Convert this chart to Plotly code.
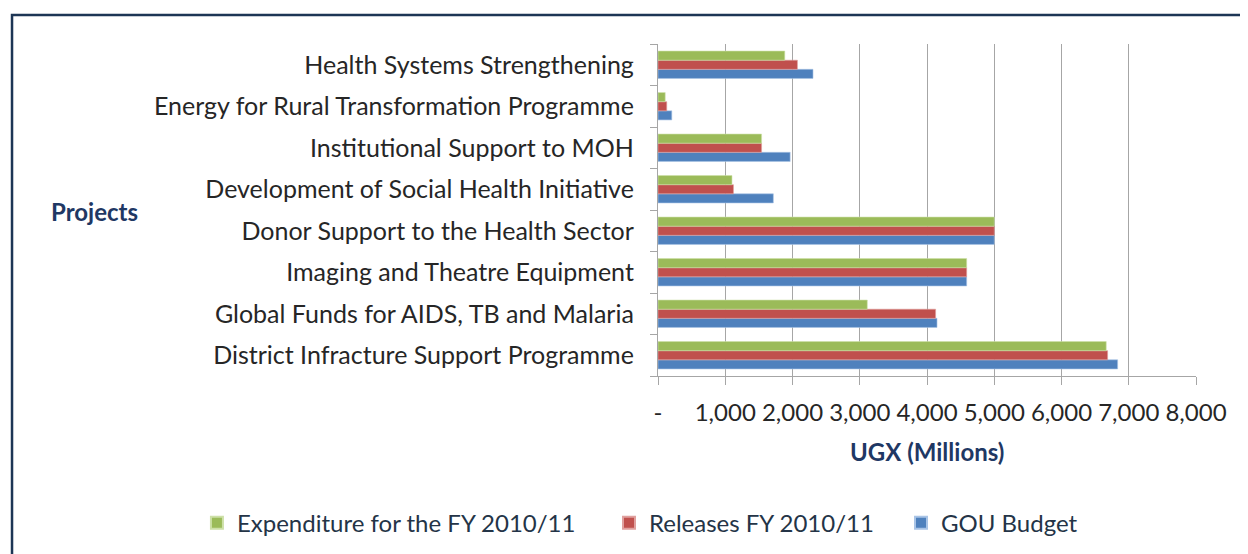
import plotly.graph_objects as go

categories = [
    "District Infracture Support Programme",
    "Global Funds for AIDS, TB and Malaria",
    "Imaging and Theatre Equipment",
    "Donor Support to the Health Sector",
    "Development of Social Health Initiative",
    "Institutional Support to MOH",
    "Energy for Rural Transformation Programme",
    "Health Systems Strengthening",
]
gou_budget = [6835, 4149, 4590, 5000, 1715, 1965, 205, 2305]
releases = [6686, 4128, 4590, 5000, 1122, 1540, 130, 2073]
expenditure = [6665, 3112, 4590, 5000, 1100, 1540, 107, 1885]

x_tickvals = [0, 1000, 2000, 3000, 4000, 5000, 6000, 7000, 8000]
x_ticktext = ["-", "1,000", "2,000", "3,000", "4,000", "5,000", "6,000", "7,000", "8,000"]

FONT = "Lato"
FS = 24
fig = go.Figure()
fig.add_trace(go.Bar(y=categories, x=gou_budget, name="GOU Budget", orientation="h",
                     legend="legend3",
                     marker=dict(color="#4F81BD", line=dict(color="#A9C4E6", width=0.6))))
fig.add_trace(go.Bar(y=categories, x=releases, name="Releases FY 2010/11", orientation="h",
                     legend="legend2",
                     marker=dict(color="#C0504D", line=dict(color="#E0A09E", width=0.6))))
fig.add_trace(go.Bar(y=categories, x=expenditure, name="Expenditure for the FY 2010/11", orientation="h",
                     legend="legend",
                     marker=dict(color="#9BBB59", line=dict(color="#CDE0A8", width=0.6))))

def leg(x):
    return dict(orientation="h", x=x, y=-0.443, xanchor="left", yanchor="middle",
                font=dict(size=FS, color="#243447"), itemwidth=30, itemsizing="constant",
                bgcolor="rgba(0,0,0,0)")

fig.update_layout(
    width=1240, height=546,
    margin=dict(l=650, r=52, t=36, b=178, autoexpand=False),
    paper_bgcolor="white", plot_bgcolor="white",
    barmode="group", bargap=0.34, bargroupgap=0,
    font=dict(family=FONT, size=FS, color="#262626"),
    showlegend=True,
    legend=leg(-0.857),
    legend2=leg(-0.0911),
    legend3=leg(0.4517),
    xaxis=dict(range=[0, 8000], tickvals=x_tickvals, ticktext=x_ticktext,
               showgrid=True, gridcolor="#A6A6A6", gridwidth=1.3,
               showline=True, linecolor="#A6A6A6", linewidth=1.3,
               ticks="outside", ticklen=8, tickcolor="#A6A6A6", tickwidth=1.3,
               ticklabelstandoff=7, zeroline=False, automargin=False,
               tickfont=dict(size=FS, color="#262626")),
    yaxis=dict(categoryorder="array", categoryarray=categories,
               showline=True, linecolor="#A6A6A6", linewidth=1.3,
               ticks="outside", ticklen=7, tickcolor="#A6A6A6", tickwidth=1.3,
               tickson="boundaries", showgrid=False, ticklabelstandoff=18,
               automargin=False,
               tickfont=dict(size=25, color="#262626")),
    annotations=[
        dict(text="<b>UGX (Millions)</b>", x=0.5, y=-0.226, xref="paper", yref="paper",
             showarrow=False, font=dict(size=FS, color="#1F3864"), xanchor="center", yanchor="middle"),
        dict(text="<b>Projects</b>", x=-1.0465, y=0.494, xref="paper", yref="paper",
             showarrow=False, font=dict(size=FS, color="#1F3864"), xanchor="center", yanchor="middle"),
    ],
    shapes=[
        dict(type="rect", xref="paper", yref="paper", x0=-1.2007, x1=2.0, y0=-2.0, y1=1.0873,
             line=dict(color="#1D3655", width=2.5), fillcolor="rgba(0,0,0,0)", layer="above"),
    ],
)

fig.write_html("out.html")
